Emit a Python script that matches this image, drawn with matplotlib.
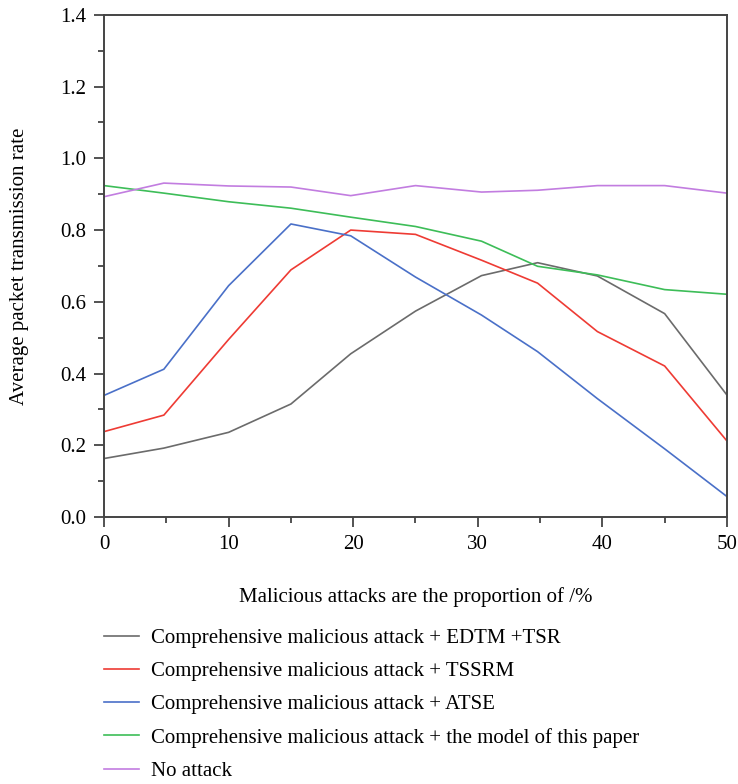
import matplotlib
matplotlib.use('Agg')
import matplotlib.pyplot as plt
from matplotlib.ticker import MultipleLocator

plt.rcParams['font.family'] = ['Liberation Serif', 'DejaVu Serif']

# Data
attack_ratio = [0, 4.8, 10, 15, 19.8, 25, 30.3, 34.8, 39.6, 45, 50]
edtm_tsr = [0.163, 0.192, 0.236, 0.315, 0.455, 0.574, 0.673, 0.709, 0.672, 0.567, 0.340]
tssrm = [0.238, 0.284, 0.495, 0.689, 0.800, 0.788, 0.716, 0.652, 0.517, 0.421, 0.212]
atse = [0.339, 0.412, 0.645, 0.817, 0.784, 0.669, 0.563, 0.461, 0.330, 0.190, 0.057]
this_model = [0.924, 0.903, 0.879, 0.861, 0.836, 0.810, 0.769, 0.699, 0.675, 0.634, 0.621]
no_attack = [0.893, 0.931, 0.923, 0.920, 0.896, 0.924, 0.906, 0.911, 0.924, 0.924, 0.903]

labels = ['Comprehensive malicious attack + EDTM +TSR',
          'Comprehensive malicious attack + TSSRM',
          'Comprehensive malicious attack + ATSE',
          'Comprehensive malicious attack + the model of this paper',
          'No attack']
colors = ['#6b6b6b', '#ee3b34', '#4a70c8', '#3dbd58', '#c27de0']

fig = plt.figure(figsize=(7.38, 7.84), dpi=100)
ax = fig.add_axes([0.141, 0.3406, 0.844, 0.6404])

for series, lab, col in zip([edtm_tsr, tssrm, atse, this_model, no_attack], labels, colors):
    ax.plot(attack_ratio, series, color=col, linewidth=1.2, label=lab)

ax.set_xlim(0, 50)
ax.set_ylim(0, 1.4)
ax.xaxis.set_major_locator(MultipleLocator(10))
ax.xaxis.set_minor_locator(MultipleLocator(5))
ax.yaxis.set_major_locator(MultipleLocator(0.2))
ax.yaxis.set_minor_locator(MultipleLocator(0.1))
ax.yaxis.set_major_formatter(plt.FormatStrFormatter('%.1f'))

for s in ax.spines.values():
    s.set_color('#444444')
    s.set_linewidth(1.4)
ax.tick_params(which='major', direction='out', length=7, width=1.3, color='#444444',
               labelsize=15, pad=6)
ax.tick_params(which='minor', direction='out', length=4, width=1.3, color='#444444')

ax.set_xlabel('Malicious attacks are the proportion of /%', fontsize=15, labelpad=24)
ax.set_ylabel('Average packet transmission rate', fontsize=15, labelpad=22)

handles, labs = ax.get_legend_handles_labels()
fig.legend(handles, labs, loc='upper left', bbox_to_anchor=(0.129, 0.209),
           frameon=False, fontsize=15, handlelength=1.7, handletextpad=0.6,
           labelspacing=0.65, borderaxespad=0)

fig.savefig('out.png', dpi=100)
